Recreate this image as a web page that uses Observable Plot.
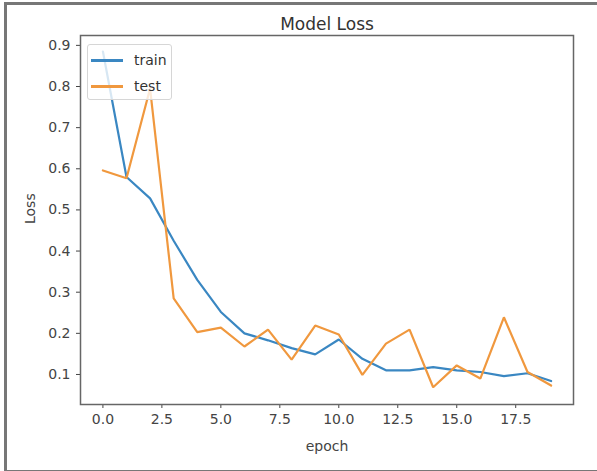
<!DOCTYPE html>
<html>
<head>
<meta charset="utf-8">
<script src="https://cdn.jsdelivr.net/npm/d3@7"></script>
<script src="https://cdn.jsdelivr.net/npm/@observablehq/plot@0.6"></script>
<style>
  html, body { margin: 0; padding: 0; background: #fff; }
  #wrap { position: relative; width: 597px; height: 471px; overflow: hidden; font-family: "DejaVu Sans", sans-serif; }
  #outer { position: absolute; left: 4px; top: 2px; width: 640px; height: 465px; border-left: 3px solid #777; border-top: 3px solid #777; border-bottom: 3px solid #777; pointer-events: none; }
  #legend { position: absolute; left: 87px; top: 44px; width: 85px; height: 56px; border: 1px solid #d6d6d6; border-radius: 3px; background: rgba(255,255,255,0.8); box-sizing: border-box; }
  .lg { position: absolute; left: 3px; height: 20px; font-size: 14px; color: #333; }
  .lg span.sw { position: absolute; left: 0; top: 9px; width: 32px; height: 2.5px; }
  .lg span.tx { position: absolute; left: 43px; top: 0; line-height: 20px; }
</style>
</head>
<body>
<div id="wrap">
  <div id="chart"></div>
  <div id="legend"></div>
  <div id="outer"></div>
</div>
<script>
const epochs = [0,1,2,3,4,5,6,7,8,9,10,11,12,13,14,15,16,17,18,19];
const trainLoss = [0.885,0.580,0.528,0.425,0.330,0.252,0.200,0.183,0.164,0.149,0.185,0.138,0.110,0.110,0.118,0.110,0.106,0.096,0.103,0.084];
const testLoss  = [0.596,0.577,0.795,0.285,0.203,0.214,0.168,0.209,0.136,0.219,0.197,0.099,0.175,0.209,0.069,0.122,0.090,0.239,0.106,0.073];
const seriesNames = ["train", "test"];
const seriesColors = ["#3a87c2", "#f0983e"];
const xTicks = [0, 2.5, 5, 7.5, 10, 12.5, 15, 17.5];
const yTicks = [0.1, 0.2, 0.3, 0.4, 0.5, 0.6, 0.7, 0.8, 0.9];
const title = "Model Loss";
const xLabel = "epoch";
const yLabel = "Loss";

const rows = [];
epochs.forEach((e, i) => {
  rows.push({epoch: e, loss: trainLoss[i], series: seriesNames[0]});
  rows.push({epoch: e, loss: testLoss[i], series: seriesNames[1]});
});

const chart = Plot.plot({
  width: 597,
  height: 471,
  marginLeft: 80,
  marginRight: 24,
  marginTop: 35,
  marginBottom: 67,
  style: {fontFamily: "DejaVu Sans, sans-serif", fontSize: "14px", color: "#444", background: "#fff"},
  x: {domain: [-0.95, 19.95], ticks: xTicks, tickFormat: d3.format(".1f"), tickSize: 4, tickPadding: 6, label: null},
  y: {domain: [0.027, 0.924], ticks: yTicks, tickFormat: d3.format(".1f"), tickSize: 4, tickPadding: 6, label: null},
  color: {domain: seriesNames, range: seriesColors},
  marks: [
    Plot.frame({stroke: "#666", strokeWidth: 1.5}),
    Plot.line(rows, {x: "epoch", y: "loss", z: "series", stroke: "series", strokeWidth: 2.2, strokeLinejoin: "miter"}),
    Plot.text([title], {frameAnchor: "top", dy: -18, fontSize: 17, fill: "#333"}),
    Plot.text([xLabel], {frameAnchor: "bottom", dy: 46, fontSize: 14, fill: "#444"}),
    Plot.text([yLabel], {frameAnchor: "left", dx: -50, dy: 4, rotate: -90, fontSize: 14, fill: "#444"})
  ]
});
document.getElementById("chart").appendChild(chart);

const legend = document.getElementById("legend");
seriesNames.forEach((name, i) => {
  const row = document.createElement("div");
  row.className = "lg";
  row.style.top = (5 + i * 26) + "px";
  const sw = document.createElement("span");
  sw.className = "sw";
  sw.style.background = seriesColors[i];
  const tx = document.createElement("span");
  tx.className = "tx";
  tx.textContent = name;
  row.appendChild(sw);
  row.appendChild(tx);
  legend.appendChild(row);
});
</script>
</body>
</html>
